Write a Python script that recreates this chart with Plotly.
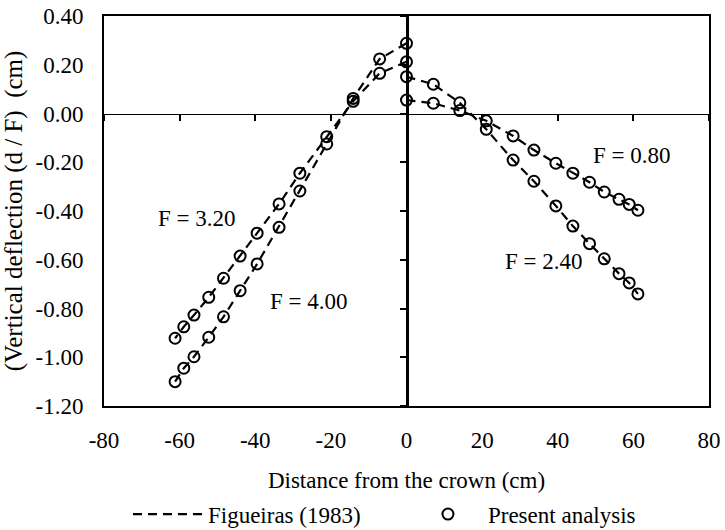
import plotly.graph_objects as go

# Horizontal distance of the nodes from the crown (cm), one half of the arch
x_half = [0, 7.1, 14.1, 21.1, 28.2, 33.7, 39.5, 44.0, 48.4, 52.3, 56.2, 58.9, 61.2]
x_left = [-v for v in x_half]
x_right = x_half

# Normalised vertical deflection d / F (cm)
d_f320 = [0.212, 0.165, 0.050, -0.095, -0.245, -0.371, -0.491, -0.585, -0.676, -0.754, -0.827, -0.875, -0.922]
d_f400 = [0.288, 0.224, 0.062, -0.125, -0.318, -0.467, -0.617, -0.727, -0.834, -0.918, -0.998, -1.045, -1.100]
d_f080 = [0.055, 0.042, 0.012, -0.030, -0.092, -0.150, -0.204, -0.245, -0.282, -0.322, -0.352, -0.373, -0.397]
d_f240 = [0.151, 0.120, 0.044, -0.065, -0.191, -0.278, -0.379, -0.462, -0.534, -0.596, -0.657, -0.695, -0.740]

curves = [
    ("F = 3.20", x_left, d_f320),
    ("F = 4.00", x_left, d_f400),
    ("F = 0.80", x_right, d_f080),
    ("F = 2.40", x_right, d_f240),
]

# Curve labels: text and anchor point in data units
label_text = ["F = 3.20", "F = 4.00", "F = 0.80", "F = 2.40"]
label_x = [-55.5, -25.8, 59.6, 36.4]
label_y = [-0.429, -0.772, -0.174, -0.608]

x_ticks = [-80, -60, -40, -20, 0, 20, 40, 60, 80]
y_ticks = [0.40, 0.20, 0.00, -0.20, -0.40, -0.60, -0.80, -1.00, -1.20]

FONT = "Liberation Serif"
FS = 23
TXT = dict(family=FONT, size=FS, color="black")

fig = go.Figure()

# Reference solution (dashed lines)
for i, (name, xs, ys) in enumerate(curves):
    fig.add_trace(go.Scatter(
        x=xs, y=ys, mode="lines",
        line=dict(color="black", width=2.2, dash="9px,6px"),
        name="Figueiras (1983)", legendgroup="fig",
        showlegend=(i == 0), hoverinfo="skip",
    ))

# Present analysis (open circles)
for i, (name, xs, ys) in enumerate(curves):
    fig.add_trace(go.Scatter(
        x=xs, y=ys, mode="markers",
        marker=dict(symbol="circle-open", size=11, color="black",
                    line=dict(color="black", width=2)),
        name="Present analysis", legendgroup="pa",
        showlegend=(i == 0), hoverinfo="skip",
    ))

# Empty trace carrying the interior axes that cross at the origin
fig.add_trace(go.Scatter(x=[], y=[], xaxis="x2", yaxis="y2",
                         showlegend=False, hoverinfo="skip"))

for t, lx, ly in zip(label_text, label_x, label_y):
    fig.add_annotation(x=lx, y=ly, text=t, showarrow=False, font=TXT)

fig.update_layout(
    width=725, height=530,
    margin=dict(l=104, r=16, t=16, b=124, autoexpand=False),
    paper_bgcolor="white", plot_bgcolor="white",
    font=TXT,
    xaxis=dict(
        range=[-80, 80], tickvals=x_ticks, ticktext=[str(v) for v in x_ticks],
        tickfont=TXT,
        showline=True, mirror=True, linecolor="black", linewidth=2,
        ticks="outside", ticklen=12, tickcolor="rgba(0,0,0,0)",
        showgrid=False, zeroline=False,
        title=dict(text="Distance from the crown (cm)", standoff=48, font=TXT),
    ),
    yaxis=dict(
        range=[-1.2, 0.4], tickvals=y_ticks, ticktext=[f"{v:.2f}" for v in y_ticks],
        tickfont=TXT,
        showline=True, mirror=True, linecolor="black", linewidth=2,
        ticks="outside", ticklen=14, tickcolor="rgba(0,0,0,0)",
        showgrid=False, zeroline=False,
        title=dict(text="(Vertical deflection (d / F)\u00a0 (cm)", standoff=6,
                   font=dict(family=FONT, size=25, color="black")),
    ),
    xaxis2=dict(
        overlaying="x", anchor="free", position=0.75, side="bottom",
        range=[-80, 80], tickvals=x_ticks, showticklabels=False,
        showline=True, linecolor="black", linewidth=1,
        ticks="outside", ticklen=6, tickwidth=1.5, tickcolor="black",
        showgrid=False, zeroline=False,
    ),
    yaxis2=dict(
        overlaying="y", anchor="free", position=0.5, side="left",
        range=[-1.2, 0.4], tickvals=y_ticks, showticklabels=False,
        showline=True, linecolor="black", linewidth=2.5,
        ticks="outside", ticklen=6, tickwidth=1.5, tickcolor="black",
        showgrid=False, zeroline=False,
    ),
    legend=dict(
        orientation="h", xref="container", x=0.1765, xanchor="left",
        yref="container", y=0.03, yanchor="middle",
        itemwidth=70, entrywidth=195, entrywidthmode="pixels",
        font=TXT, bgcolor="rgba(0,0,0,0)",
        traceorder="normal",
    ),
    showlegend=True,
)

fig.write_html("out.html")
